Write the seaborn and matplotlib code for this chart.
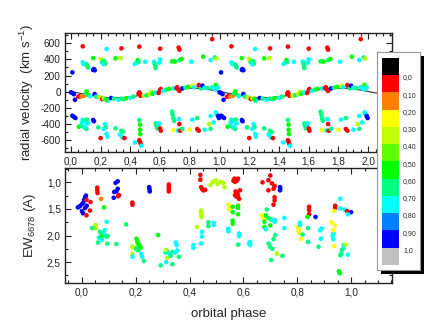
import numpy as np
import pandas as pd
import matplotlib
matplotlib.use("Agg")
import matplotlib.pyplot as plt
from matplotlib.ticker import MultipleLocator, FuncFormatter
import seaborn as sns

# ---- radial velocity panel (phase 0-1, repeated for 1-2) ----
up_phase = [0.08, 0.24, 0.34, 0.46, 0.60, 0.725, 0.73, 0.95, 0.01, 0.08, 0.085,
            0.105, 0.11, 0.115, 0.15, 0.155, 0.16, 0.15, 0.20, 0.21, 0.225, 0.23,
            0.22, 0.30, 0.335, 0.43, 0.44, 0.45, 0.455, 0.50, 0.56, 0.565, 0.57,
            0.57, 0.595, 0.60, 0.68, 0.69, 0.70, 0.73, 0.745, 0.81, 0.89, 0.94,
            0.97, 0.98]
up_rv = [561, 528, 536, 557, 532, 545, 520, 650, 239, 363, 342, 340, 318, 300,
         416, 280, 265, 270, 404, 363, 380, 345, 340, 412, 416, 342, 354, 392,
         370, 371, 371, 342, 318, 293, 360, 400, 375, 380, 372, 390, 405, 371,
         433, 392, 424, 410]
up_shade = ("r c r r r r r r b c c sg sg sg g b b b yg sg sg g c g yg c c g sg "
            "c c sg sg sg c c g sg g sg g c g c sg yg").split()

mid_phase = [0.00, 0.01, 0.027, 0.02, 0.05, 0.06, 0.07, 0.09, 0.10, 0.105, 0.12,
             0.13, 0.16, 0.17, 0.19, 0.21, 0.22, 0.245, 0.25, 0.235, 0.27, 0.29,
             0.32, 0.34, 0.357, 0.37, 0.40, 0.42, 0.46, 0.465, 0.47, 0.455, 0.49,
             0.51, 0.53, 0.54, 0.55, 0.57, 0.60, 0.605, 0.59, 0.62, 0.64, 0.66,
             0.69, 0.71, 0.72, 0.73, 0.715, 0.75, 0.77, 0.79, 0.82, 0.83, 0.86,
             0.865, 0.875, 0.885, 0.90, 0.92, 0.95, 0.975, 0.97, 0.99]
mid_rv = [-8, -15, -100, -30, -62, -55, -60, -50, -20, 4, -40, -55, -29, -60, -70,
          -90, -80, -111, -100, -95, -78, -85, -100, -85, -92, -80, -75, -60,
          -8, -30, -50, -25, -50, -45, -30, 0, -25, -10, 20, 33, -15, 10, 25, 35,
          40, 45, 30, 10, 55, 40, 50, 60, 74, 55, 82, 70, 40, 75, 50, 45, 55, 85,
          30, 50]
mid_shade = ("b b b b r r o o sg g g c b sg yg r yg sg c g b sg c sg sg g c sg "
             "r r r r yg sg yg yg g c r r r c sg g c r r r r b sg g y c r r sg b "
             "c sg c g c c").split()

low_phase = [0.01, 0.02, 0.03, 0.054, 0.07, 0.075, 0.08, 0.09, 0.10, 0.11, 0.115,
             0.09, 0.105, 0.095, 0.15, 0.155, 0.184, 0.20, 0.23, 0.235, 0.22,
             0.24, 0.245, 0.30, 0.34, 0.35, 0.345, 0.33, 0.36, 0.43, 0.46, 0.465,
             0.47, 0.475, 0.46, 0.465, 0.465, 0.467, 0.57, 0.575, 0.58, 0.59,
             0.595, 0.60, 0.605, 0.68, 0.685, 0.69, 0.695, 0.69, 0.72, 0.727,
             0.73, 0.735, 0.75, 0.817, 0.80, 0.85, 0.85, 0.86, 0.90, 0.93, 0.94,
             0.94, 0.975, 0.98, 0.99, 0.996, 0.96]
low_rv = [-297, -310, -325, -433, -420, -380, -345, -360, -370, -345, -390, -440,
          -460, -430, -350, -365, -441, -573, -400, -440, -460, -520, -557, -453,
          -483, -500, -565, -530, -573, -627, -600, -620, -647, -668, -350, -408,
          -470, -524, -392, -420, -453, -410, -390, -453, -482, -247, -285, -330,
          -360, -474, -480, -338, -400, -482, -460, -345, -470, -326, -462, -482,
          -470, -400, -300, -460, -256, -276, -300, -326, -380]
low_shade = ("b b b g sg c c sg c sg c sg sg c b b sg r c sg c c c sg sg sg c c r "
             "c r r r c sg g g g sg sg sg c c r r sg sg sg sg y c c r r sg "
             "c y sg r r c yg c sg c c b b c").split()

# orbital solution, one cycle in steps of 0.05
curve_cycle = [3, -15, -33, -50, -63, -72, -75, -72, -63, -50,
               -33, -15, 3, 20, 33, 42, 45, 42, 33, 20]

# ---- equivalent width panel ----
ew_phase_a = [-0.015, -0.008, 0.0, 0.005, 0.008, 0.012, 0.015, 0.0, 0.004, 0.012,
              0.018, 0.017, 0.032, 0.03, 0.017, 0.057, 0.057, 0.058, 0.071, 0.082,
              0.125, 0.133, 0.12, 0.128, 0.133, 0.118, 0.134, 0.138, 0.187, 0.188,
              0.25, 0.251, 0.252, 0.323, 0.323, 0.323, 0.323, 0.44, 0.44, 0.443,
              0.447, 0.452, 0.458, 0.478, 0.487, 0.497, 0.505, 0.515, 0.525, 0.53]
ew_a = [1.47, 1.45, 1.41, 1.38, 1.33, 1.28, 1.25, 1.54, 1.58, 1.48, 1.44, 1.33,
        1.37, 1.53, 1.62, 1.10, 1.15, 1.20, 1.31, 1.47, 1.01, 0.98, 1.18, 1.17,
        1.12, 1.29, 1.26, 1.24, 1.38, 1.42, 1.09, 1.13, 1.17, 1.04, 1.09, 1.13,
        1.17, 0.86, 0.95, 1.09, 1.13, 1.15, 1.14, 1.05, 0.99, 0.96, 1.03, 0.99,
        1.01, 1.09]
ew_shade_a = ("b b b b b b b b b b b r r r r r r r o g b b b b b b r r r r b b b "
              "r r r r r r r r r r yg yg yg yg yg yg yg").split()

ew_phase_b = [0.051, 0.051, 0.047, 0.038, 0.092, 0.067, 0.072, 0.079, 0.084,
              0.091, 0.096, 0.063, 0.06, 0.094, 0.072, 0.085, 0.075, 0.128, 0.164,
              0.203, 0.206, 0.208, 0.213, 0.216, 0.2, 0.208, 0.218, 0.187, 0.187,
              0.188, 0.22, 0.224, 0.23, 0.205, 0.283, 0.293, 0.311, 0.317, 0.327,
              0.336, 0.346, 0.355, 0.352, 0.349, 0.36, 0.336, 0.313, 0.317, 0.33,
              0.312, 0.414, 0.414, 0.428, 0.443, 0.443, 0.444, 0.445, 0.446, 0.446,
              0.443, 0.47, 0.47, 0.49, 0.49]
ew_b = [1.80, 1.86, 1.84, 1.86, 1.74, 1.93, 1.96, 1.99, 1.98, 2.02, 2.01, 2.04,
        2.13, 2.15, 2.03, 1.90, 2.08, 2.16, 1.79, 2.06, 2.11, 2.15, 2.18, 2.21,
        2.24, 2.27, 2.23, 2.21, 2.35, 2.40, 2.34, 2.40, 2.48, 2.26, 1.99, 2.56,
        2.32, 2.30, 2.34, 2.31, 2.32, 2.28, 2.18, 2.13, 2.40, 2.54, 2.50, 2.42,
        2.38, 2.27, 2.18, 2.23, 1.84, 1.53, 1.57, 1.62, 1.65, 1.93, 2.02, 2.15,
        1.75, 1.82, 1.76, 1.80]
ew_shade_b = ("yg yg yg sg c sg sg sg c sg sg c sg sg g c c sg sg "
              "g g g g g g g g yg yg c c c sg sg g sg "
              "c sg c sg c c c c sg sg c yg sg yg c c yg yg yg yg yg "
              "c c c sg sg c c").split()

ew_phase_c = [0.563, 0.569, 0.575, 0.58, 0.567, 0.571, 0.578, 0.575, 0.584, 0.587,
              0.569, 0.58, 0.545, 0.547, 0.56, 0.58, 0.58, 0.56, 0.58, 0.56, 0.56,
              0.544, 0.544, 0.584, 0.584, 0.58, 0.625, 0.625, 0.621, 0.70, 0.693,
              0.706, 0.716, 0.712, 0.693, 0.671, 0.736, 0.736, 0.737, 0.716, 0.716,
              0.712, 0.687, 0.668, 0.674, 0.68, 0.683, 0.693, 0.703, 0.70, 0.718,
              0.678, 0.678, 0.683, 0.712, 0.716, 0.752, 0.752, 0.718, 0.712, 0.693,
              0.699, 0.708, 0.724, 0.745, 0.703, 0.802, 0.805, 0.807, 0.814, 0.81,
              0.81, 0.82, 0.84, 0.84, 0.844, 0.844, 0.844, 0.838, 0.868, 0.885,
              0.891, 0.888, 0.879, 0.934, 0.931, 0.934, 0.928, 0.934, 0.94, 0.937,
              0.941, 0.941, 0.937, 0.96, 0.96, 0.976, 0.985, 1.0, 0.988, 0.972,
              0.972, 0.966, 0.964, 0.96, 0.98, 0.988, 0.955, 0.958]
ew_c = [0.97, 0.99, 0.97, 0.93, 0.93, 1.17, 1.21, 1.27, 1.31, 1.15, 1.24, 1.26,
        1.42, 1.50, 1.46, 1.44, 1.48, 1.56, 1.60, 1.72, 1.78, 1.87, 1.92, 1.96,
        2.01, 2.17, 2.12, 2.18, 2.15, 0.87, 0.96, 1.02, 1.07, 1.12, 1.15, 1.00,
        1.09, 1.15, 1.12, 1.28, 1.34, 1.42, 1.51, 1.62, 1.67, 1.68, 1.62, 1.67,
        1.70, 1.81, 1.71, 1.74, 1.84, 1.88, 1.71, 1.74, 1.67, 1.86, 1.99, 2.07,
        2.15, 2.21, 2.25, 2.34, 2.38, 2.46, 1.84, 1.90, 1.95, 2.06, 1.76, 1.80,
        1.98, 1.86, 2.12, 1.46, 1.52, 1.60, 1.65, 1.65, 1.90, 1.87, 2.06, 2.21,
        1.96, 2.00, 2.07, 1.75, 1.90, 1.81, 2.20, 1.44, 1.48, 1.54, 1.31, 1.49,
        1.51, 1.54, 1.56, 1.60, 2.18, 2.24, 2.27, 2.34, 2.37, 2.17, 2.36, 2.67,
        2.71]
ew_shade_c = ("r r r r r r r r r r r r y y g g g g g g g c c c c sg c c c "
              "r r r r r r r b b b r r r sg y y y g sg sg g sg g g c c c c c "
              "sg sg sg sg sg yg sg sg y y y y c c sg sg sg r r r g b c c c sg "
              "c c c y y y y r r y c c c r b c c c sg sg sg yg c g g").split()

palette = {"r": "#ff0000", "o": "#ff8000", "y": "#ffff00", "yg": "#b4ff00",
           "g": "#00ff00", "sg": "#00ff80", "c": "#00ffff", "b": "#0000ff"}

legend_colors = ["#000000", "#ff0000", "#ff8000", "#ffff00", "#c0ff00", "#60ff00",
                 "#00ff00", "#00ff80", "#00ffff", "#0080ff", "#0000ff", "#c0c0c0"]
legend_labels = ["0,0", "0,10", "0,20", "0,30", "0,40", "0,50", "0,60", "0,70",
                 "0,80", "0,90", "1,0"]

sns.set_style("ticks")
plt.rcParams["font.family"] = ["Liberation Sans", "DejaVu Sans"]
plt.rcParams["mathtext.fontset"] = "custom"
plt.rcParams["mathtext.rm"] = "Liberation Sans"
plt.rcParams["mathtext.it"] = "Liberation Sans:italic"
plt.rcParams["axes.unicode_minus"] = False

rv1 = pd.DataFrame({"phase": up_phase + mid_phase + low_phase,
                    "rv": up_rv + mid_rv + low_rv,
                    "shade": up_shade + mid_shade + low_shade})
rv2 = rv1.assign(phase=rv1["phase"] + 1)
rv = pd.concat([rv1, rv2], ignore_index=True)

curve_phase = np.arange(45) * 0.05
curve_rv = np.resize(curve_cycle, 45)

ew = pd.DataFrame({"phase": ew_phase_a + ew_phase_b + ew_phase_c,
                   "ew": ew_a + ew_b + ew_c,
                   "shade": ew_shade_a + ew_shade_b + ew_shade_c})

fig = plt.figure(figsize=(4.36, 3.34), dpi=100)
ax1 = fig.add_axes([0.149, 0.545, 0.750, 0.356])
ax2 = fig.add_axes([0.149, 0.153, 0.750, 0.344])

sns.lineplot(x=curve_phase, y=curve_rv, color="#333333", lw=0.8, ax=ax1, zorder=1)
sns.scatterplot(data=rv, x="phase", y="rv", hue="shade", palette=palette, s=11,
                linewidth=0, legend=False, ax=ax1, zorder=2)
sns.scatterplot(data=ew, x="phase", y="ew", hue="shade", palette=palette, s=11,
                linewidth=0, legend=False, ax=ax2)

comma1 = FuncFormatter(lambda v, p: f"{v:.1f}".replace(".", ","))

ax1.set_xlim(-0.04, 2.16)
ax1.set_ylim(-745, 725)
ax1.xaxis.set_major_locator(MultipleLocator(0.2))
ax1.xaxis.set_minor_locator(MultipleLocator(0.05))
ax1.yaxis.set_major_locator(MultipleLocator(200))
ax1.yaxis.set_minor_locator(MultipleLocator(100))
ax1.xaxis.set_major_formatter(comma1)
ax1.yaxis.set_major_formatter(FuncFormatter(lambda v, p: f"{v:.0f}"))
ax1.set_xlabel("")
ax1.set_ylabel("radial velocity  (km s$^{-1}$)", fontsize=9.5, labelpad=3)

ax2.set_xlim(-0.063, 1.152)
ax2.set_ylim(2.89, 0.73)
ax2.xaxis.set_major_locator(MultipleLocator(0.2))
ax2.xaxis.set_minor_locator(MultipleLocator(0.05))
ax2.yaxis.set_major_locator(MultipleLocator(0.5))
ax2.yaxis.set_minor_locator(MultipleLocator(0.25))
ax2.xaxis.set_major_formatter(comma1)
ax2.yaxis.set_major_formatter(comma1)
ax2.set_xlabel("orbital phase", fontsize=9.5, labelpad=8)
ax2.set_ylabel("EW$_{6678}$ (A)", fontsize=9.5, labelpad=6)

for ax in (ax1, ax2):
    ax.tick_params(which="both", direction="in", top=True, right=True,
                   width=0.8, colors="#222222", labelsize=7.2, pad=3)
    ax.tick_params(which="major", length=4)
    ax.tick_params(which="minor", length=2)
    for sp in ax.spines.values():
        sp.set_linewidth(1.0)
        sp.set_color("#222222")

# colour scale box with drop shadow
shadow = fig.add_axes([0.8739, 0.1796, 0.0986, 0.6527])
shadow.set_facecolor("black")
shadow.set_xticks([])
shadow.set_yticks([])
for sp in shadow.spines.values():
    sp.set_visible(False)

box = fig.add_axes([0.8647, 0.1916, 0.0986, 0.6527])
box.set_facecolor("white")
box.set_xticks([])
box.set_yticks([])
for sp in box.spines.values():
    sp.set_color("#999999")
    sp.set_linewidth(0.8)

strip = fig.add_axes([0.8761, 0.2066, 0.039, 0.6198])
strip.bar(0, 1, bottom=np.arange(len(legend_colors)), width=1,
          color=legend_colors, linewidth=0)
strip.set_xlim(-0.5, 0.5)
strip.set_ylim(len(legend_colors), 0)
strip.set_xticks([])
strip.set_yticks(np.arange(1, len(legend_colors)) + 0.1)
strip.set_yticklabels(legend_labels, fontsize=5)
strip.yaxis.tick_right()
strip.tick_params(axis="y", length=0, pad=3)
for sp in strip.spines.values():
    sp.set_visible(False)

plt.savefig("out.png", dpi=100)
